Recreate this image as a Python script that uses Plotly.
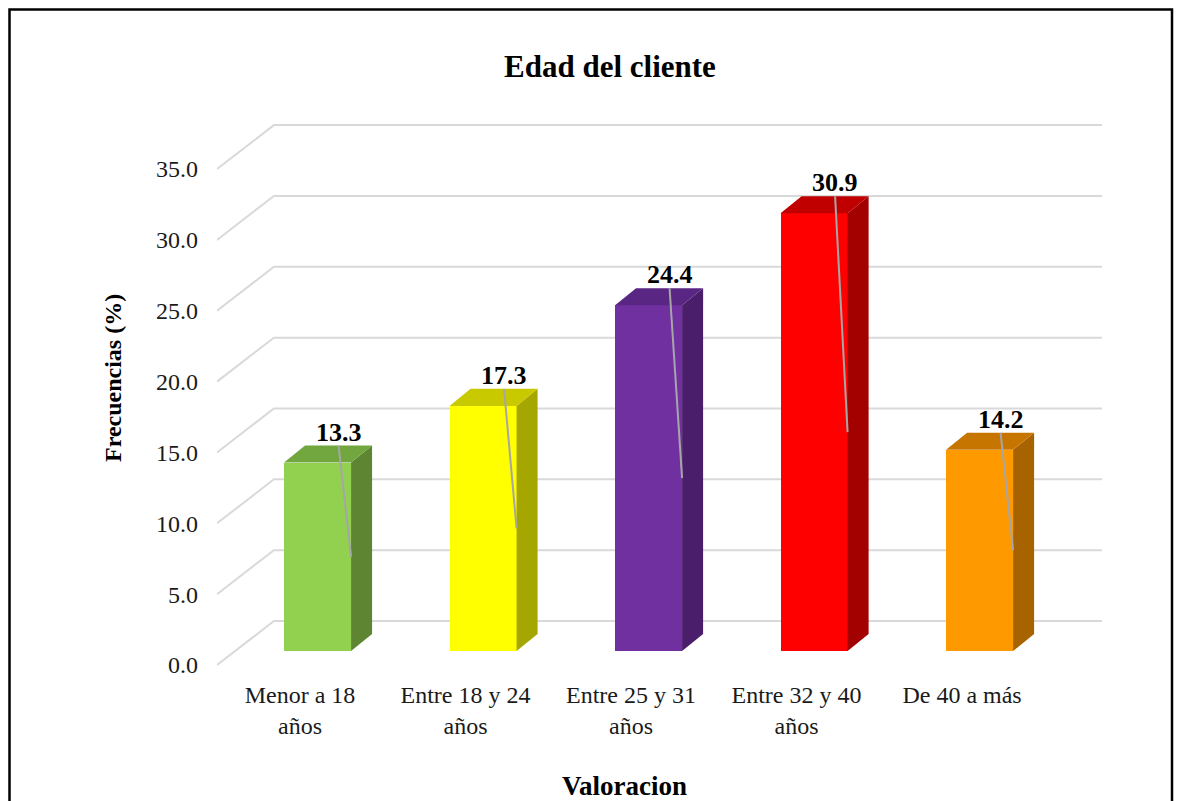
import plotly.graph_objects as go

# ---------------- data ----------------
categories = ["Menor a 18<br>años", "Entre 18 y 24<br>años", "Entre 25 y 31<br>años",
              "Entre 32 y 40<br>años", "De 40 a más"]
values = [13.3, 17.3, 24.4, 30.9, 14.2]
y_ticks = [0, 5, 10, 15, 20, 25, 30, 35]
y_tick_labels = ["0.0", "5.0", "10.0", "15.0", "20.0", "25.0", "30.0", "35.0"]

front_colors = ["#92D050", "#FFFF00", "#7030A0", "#FF0000", "#FF9900"]
top_colors = ["#72A63E", "#C9C900", "#5A2684", "#C00000", "#C67600"]
side_colors = ["#5E8532", "#A6A600", "#4A1E6A", "#A30000", "#A66300"]

title = "Edad del cliente"
x_title = "Valoracion"
y_title = "Frecuencias (%)"

FONT = "Liberation Serif, Times New Roman, serif"

# ---------------- geometry (pseudo 3-D, in axis data units) ----------------
W, H = 1177, 801
plot_l, plot_r, plot_t, plot_b = 217, 1110, 110, 672
x_range = [-0.5015, 4.894]
y_range = [-0.494, 39.17]

wall_dx, wall_dy = 0.344, 3.105        # front plane -> back wall
bar_off_x, bar_off_y = 0.106, 0.988    # front plane -> bar front face
bar_dx, bar_dy = 0.127, 1.20           # bar depth
bar_w = 0.405
wall_right = 4.846

fig = go.Figure()

# gridlines (floor-to-wall diagonals + back wall lines), drawn below traces
for t in y_ticks:
    x0, x1 = x_range[0], x_range[0] + wall_dx
    fig.add_shape(type="path", xref="x", yref="y", layer="below",
                  path=f"M {x0},{t} L {x1},{t + wall_dy} L {wall_right},{t + wall_dy}",
                  line=dict(color="#D9D9D9", width=2))

xs = list(range(len(categories)))

# front faces
fig.add_trace(go.Bar(
    x=[i + bar_off_x for i in xs], y=values, base=[bar_off_y] * len(values),
    width=bar_w, marker=dict(color=front_colors, line=dict(width=0)),
    showlegend=False, hoverinfo="skip"))

for i, v, tc, sc in zip(xs, values, top_colors, side_colors):
    xl = i + bar_off_x - bar_w / 2
    xr = i + bar_off_x + bar_w / 2
    b = bar_off_y
    top = b + v
    # side face
    fig.add_trace(go.Scatter(
        x=[xr, xr + bar_dx, xr + bar_dx, xr, xr],
        y=[b, b + bar_dy, top + bar_dy, top, b],
        fill="toself", fillcolor=sc, mode="lines", line=dict(width=0, color=sc),
        hoverinfo="skip", showlegend=False))
    # top face
    fig.add_trace(go.Scatter(
        x=[xl, xl + bar_dx, xr + bar_dx, xr, xl],
        y=[top, top + bar_dy, top + bar_dy, top, top],
        fill="toself", fillcolor=tc, mode="lines", line=dict(width=0, color=tc),
        hoverinfo="skip", showlegend=False))
    # leader line from label to middle of bar's right front edge
    lx = i + bar_off_x + bar_dx
    fig.add_trace(go.Scatter(
        x=[lx, xr], y=[top + bar_dy, b + v / 2],
        mode="lines", line=dict(color="#A6A6A6", width=2),
        hoverinfo="skip", showlegend=False))
    fig.add_annotation(x=lx, y=top + bar_dy, text=f"<b>{v:.1f}</b>",
                       showarrow=False, yanchor="bottom", xanchor="center",
                       yshift=-3, font=dict(family=FONT, size=26, color="black"))

# titles
fig.add_annotation(xref="paper", yref="paper",
                   x=(609.5 - plot_l) / (plot_r - plot_l),
                   y=(plot_b - 66) / (plot_b - plot_t),
                   text=f"<b>{title}</b>", showarrow=False,
                   xanchor="center", yanchor="middle",
                   font=dict(family=FONT, size=31, color="black"))
fig.add_annotation(xref="paper", yref="paper",
                   x=(113 - plot_l) / (plot_r - plot_l),
                   y=(plot_b - 378) / (plot_b - plot_t),
                   text=f"<b>{y_title}</b>", showarrow=False, textangle=-90,
                   xanchor="center", yanchor="middle",
                   font=dict(family=FONT, size=24, color="black"))
fig.add_annotation(xref="paper", yref="paper",
                   x=(624 - plot_l) / (plot_r - plot_l),
                   y=(plot_b - 786) / (plot_b - plot_t),
                   text=f"<b>{x_title}</b>", showarrow=False,
                   xanchor="center", yanchor="middle",
                   font=dict(family=FONT, size=27, color="black"))

# outer border
fig.add_shape(type="rect", xref="paper", yref="paper",
              x0=(9.5 - plot_l) / (plot_r - plot_l),
              x1=(1172 - plot_l) / (plot_r - plot_l),
              y0=(plot_b - 830) / (plot_b - plot_t),
              y1=(plot_b - 9.5) / (plot_b - plot_t),
              line=dict(color="black", width=2.5), layer="above")

fig.update_layout(
    width=W, height=H,
    margin=dict(l=plot_l, r=W - plot_r, t=plot_t, b=H - plot_b, autoexpand=False),
    paper_bgcolor="white", plot_bgcolor="white",
    showlegend=False, bargap=0,
    xaxis=dict(range=x_range, tickvals=xs, ticktext=categories,
               showgrid=False, zeroline=False, showline=False, ticks="",
               ticklabelstandoff=6,
               tickfont=dict(family=FONT, size=24, color="#1a1a1a")),
    yaxis=dict(range=y_range, tickvals=y_ticks, ticktext=y_tick_labels,
               showgrid=False, zeroline=False, showline=False, ticks="",
               ticklabelstandoff=18,
               tickfont=dict(family=FONT, size=24, color="#1a1a1a")),
)

fig.write_html("out.html")
